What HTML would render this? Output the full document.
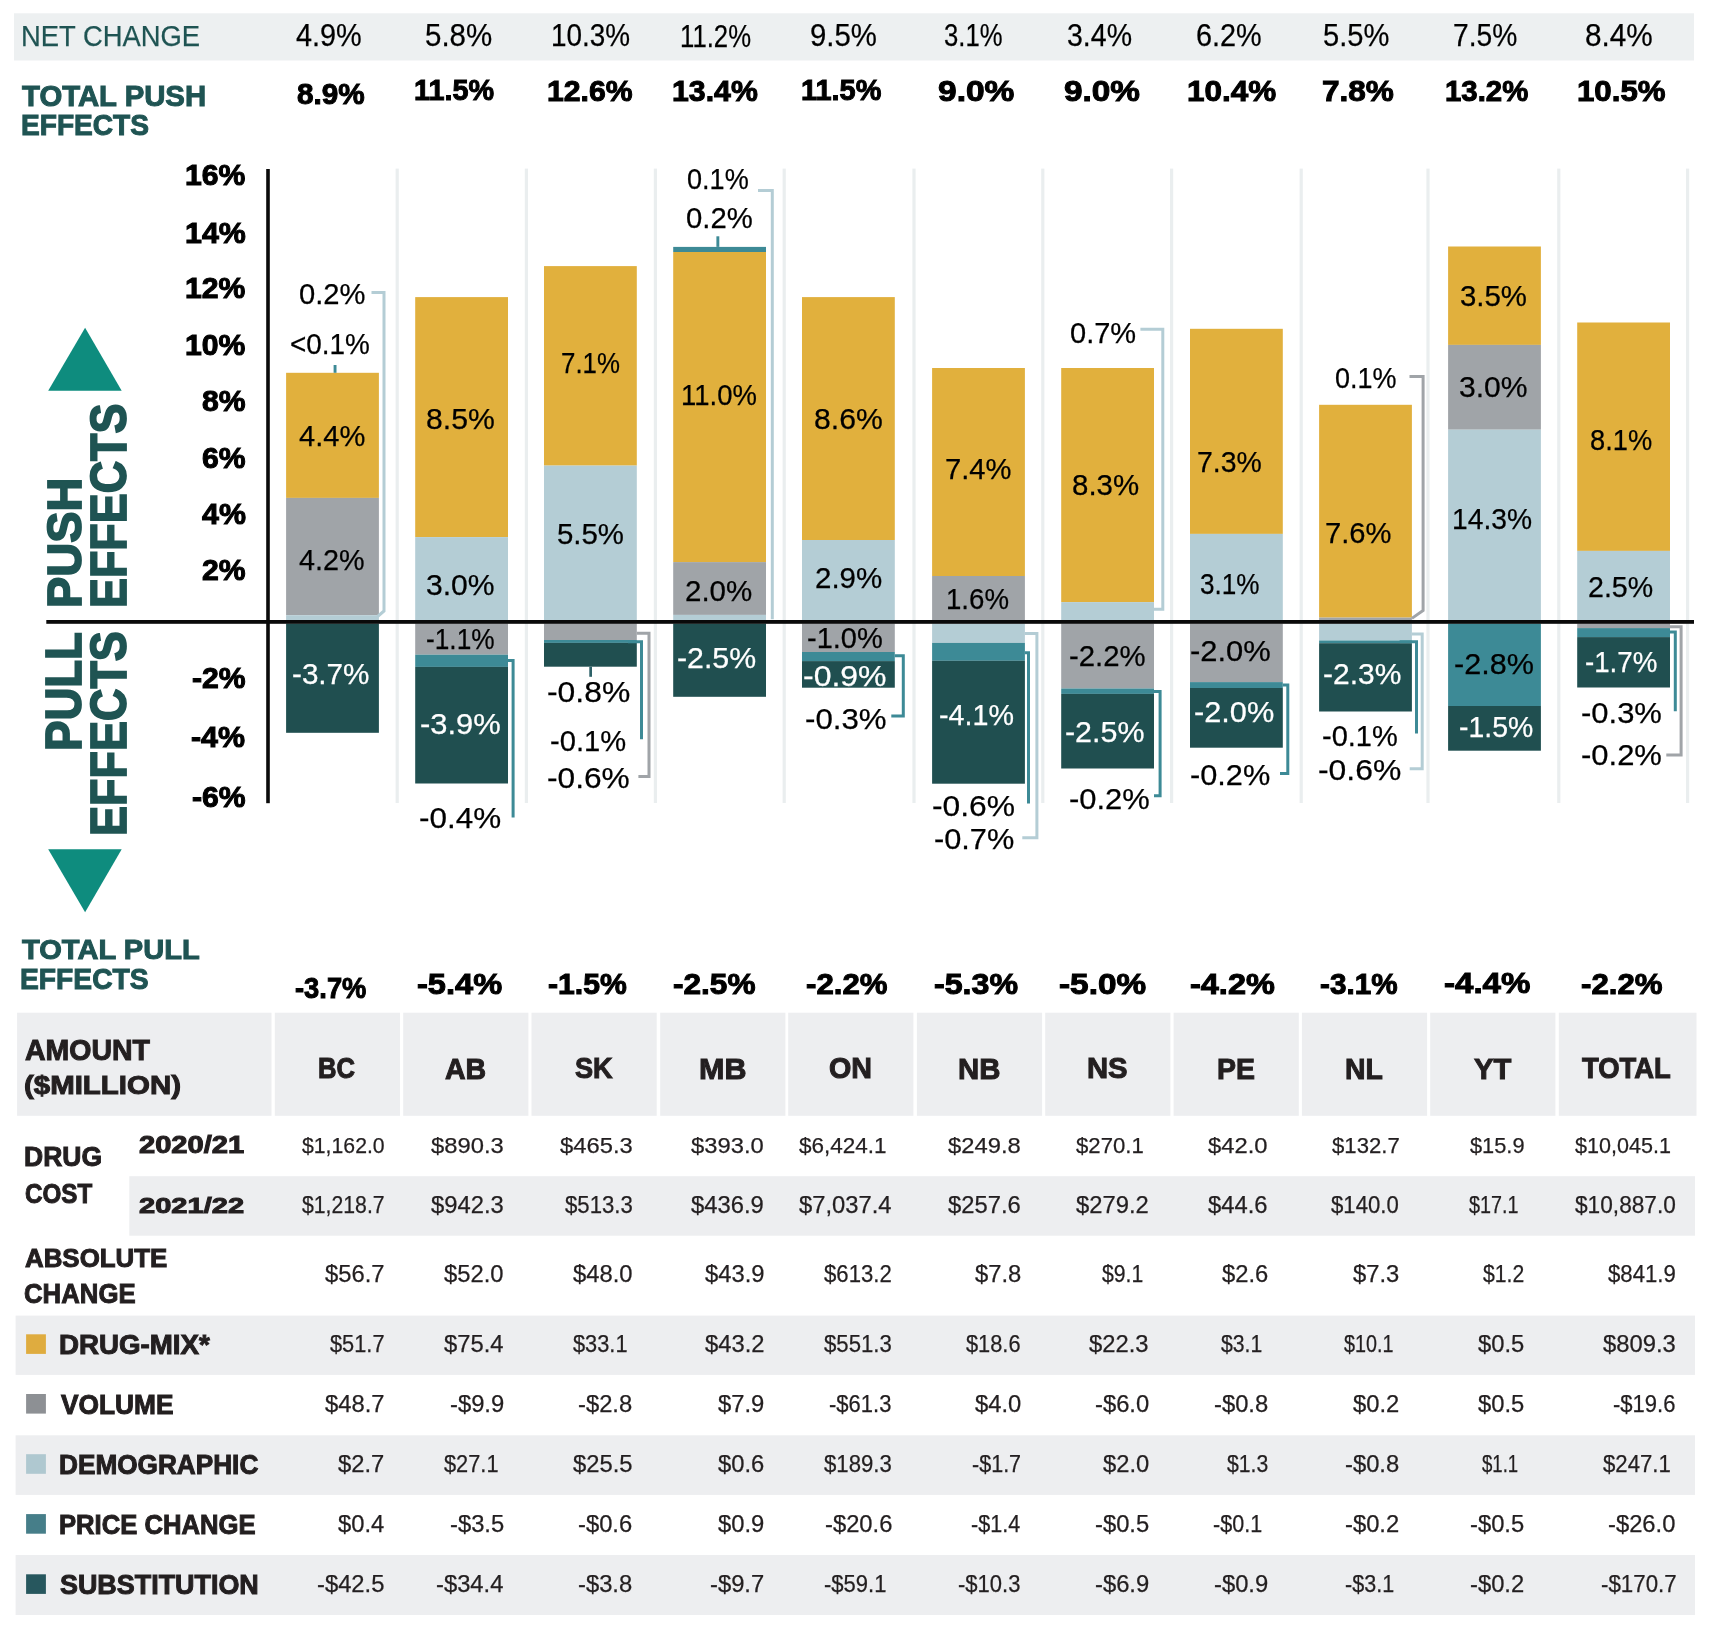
<!DOCTYPE html>
<html><head><meta charset="utf-8"><title>Drug cost drivers</title>
<style>
html,body{margin:0;padding:0;background:#fff;}
body{width:1718px;height:1625px;position:relative;overflow:hidden;font-family:"Liberation Sans",sans-serif;}
.r{position:absolute;}
.t{position:absolute;white-space:nowrap;transform-origin:0 0;-webkit-text-stroke:0.25px;}
.b{font-weight:700;-webkit-text-stroke:1px;}
.ov{position:absolute;left:0;top:0;}
#tx{position:absolute;left:0;top:0;width:1718px;height:1625px;will-change:transform;}
</style></head><body>
<svg class="ov" width="1718" height="1625" viewBox="0 0 1718 1625">
<rect x="14.00" y="13.30" width="1680.00" height="47.20" fill="#EDF0F1"/>
<rect x="395.60" y="168.60" width="3.20" height="634.40" fill="#EAEEEF"/>
<rect x="524.80" y="168.60" width="3.20" height="634.40" fill="#EAEEEF"/>
<rect x="653.80" y="168.60" width="3.20" height="634.40" fill="#EAEEEF"/>
<rect x="782.60" y="168.60" width="3.20" height="634.40" fill="#EAEEEF"/>
<rect x="912.40" y="168.60" width="3.20" height="634.40" fill="#EAEEEF"/>
<rect x="1041.20" y="168.60" width="3.20" height="634.40" fill="#EAEEEF"/>
<rect x="1170.00" y="168.60" width="3.20" height="634.40" fill="#EAEEEF"/>
<rect x="1299.60" y="168.60" width="3.20" height="634.40" fill="#EAEEEF"/>
<rect x="1426.40" y="168.60" width="3.20" height="634.40" fill="#EAEEEF"/>
<rect x="1557.20" y="168.60" width="3.20" height="634.40" fill="#EAEEEF"/>
<rect x="1686.00" y="168.60" width="3.20" height="634.40" fill="#EAEEEF"/>
<rect x="286.10" y="372.80" width="92.80" height="125.10" fill="#E1B03D"/>
<rect x="286.10" y="497.90" width="92.80" height="117.30" fill="#A0A4A8"/>
<rect x="286.10" y="615.20" width="92.80" height="5.30" fill="#B4CDD5"/>
<rect x="286.10" y="623.50" width="92.80" height="109.30" fill="#204F50"/>
<rect x="415.20" y="297.10" width="92.80" height="240.00" fill="#E1B03D"/>
<rect x="415.20" y="537.10" width="92.80" height="83.40" fill="#B4CDD5"/>
<rect x="415.20" y="623.50" width="92.80" height="31.20" fill="#A0A4A8"/>
<rect x="415.20" y="654.70" width="92.80" height="12.20" fill="#3D8A96"/>
<rect x="415.20" y="666.90" width="92.80" height="116.60" fill="#204F50"/>
<rect x="544.00" y="266.10" width="92.80" height="199.50" fill="#E1B03D"/>
<rect x="544.00" y="465.60" width="92.80" height="154.90" fill="#B4CDD5"/>
<rect x="544.00" y="623.50" width="92.80" height="16.50" fill="#A0A4A8"/>
<rect x="544.00" y="640.00" width="92.80" height="2.90" fill="#3D8A96"/>
<rect x="544.00" y="642.90" width="92.80" height="23.80" fill="#204F50"/>
<rect x="673.20" y="246.90" width="92.80" height="5.10" fill="#3D8A96"/>
<rect x="673.20" y="252.00" width="92.80" height="310.10" fill="#E1B03D"/>
<rect x="673.20" y="562.10" width="92.80" height="52.80" fill="#A0A4A8"/>
<rect x="673.20" y="614.90" width="92.80" height="5.60" fill="#B4CDD5"/>
<rect x="673.20" y="623.50" width="92.80" height="73.30" fill="#204F50"/>
<rect x="802.00" y="297.10" width="92.80" height="242.90" fill="#E1B03D"/>
<rect x="802.00" y="540.00" width="92.80" height="80.50" fill="#B4CDD5"/>
<rect x="802.00" y="623.50" width="92.80" height="28.50" fill="#A0A4A8"/>
<rect x="802.00" y="652.00" width="92.80" height="9.10" fill="#3D8A96"/>
<rect x="802.00" y="661.10" width="92.80" height="26.60" fill="#204F50"/>
<rect x="932.10" y="368.00" width="92.80" height="208.00" fill="#E1B03D"/>
<rect x="932.10" y="576.00" width="92.80" height="44.50" fill="#A0A4A8"/>
<rect x="932.10" y="623.50" width="92.80" height="19.40" fill="#B4CDD5"/>
<rect x="932.10" y="642.90" width="92.80" height="17.90" fill="#3D8A96"/>
<rect x="932.10" y="660.80" width="92.80" height="122.90" fill="#204F50"/>
<rect x="1061.20" y="368.00" width="92.80" height="234.10" fill="#E1B03D"/>
<rect x="1061.20" y="602.10" width="92.80" height="18.40" fill="#B4CDD5"/>
<rect x="1061.20" y="623.50" width="92.80" height="65.00" fill="#A0A4A8"/>
<rect x="1061.20" y="688.50" width="92.80" height="5.40" fill="#3D8A96"/>
<rect x="1061.20" y="693.90" width="92.80" height="74.60" fill="#204F50"/>
<rect x="1190.00" y="328.80" width="92.80" height="205.10" fill="#E1B03D"/>
<rect x="1190.00" y="533.90" width="92.80" height="86.60" fill="#B4CDD5"/>
<rect x="1190.00" y="623.50" width="92.80" height="58.60" fill="#A0A4A8"/>
<rect x="1190.00" y="682.10" width="92.80" height="5.90" fill="#3D8A96"/>
<rect x="1190.00" y="688.00" width="92.80" height="59.70" fill="#204F50"/>
<rect x="1319.10" y="404.80" width="92.80" height="212.80" fill="#E1B03D"/>
<rect x="1319.10" y="617.60" width="92.80" height="2.90" fill="#A0A4A8"/>
<rect x="1319.10" y="623.50" width="92.80" height="17.00" fill="#B4CDD5"/>
<rect x="1319.10" y="640.50" width="92.80" height="2.70" fill="#3D8A96"/>
<rect x="1319.10" y="643.20" width="92.80" height="68.30" fill="#204F50"/>
<rect x="1448.10" y="246.50" width="92.80" height="98.40" fill="#E1B03D"/>
<rect x="1448.10" y="344.90" width="92.80" height="84.80" fill="#A0A4A8"/>
<rect x="1448.10" y="429.70" width="92.80" height="190.80" fill="#B4CDD5"/>
<rect x="1448.10" y="623.50" width="92.80" height="82.50" fill="#3D8A96"/>
<rect x="1448.10" y="706.00" width="92.80" height="44.70" fill="#204F50"/>
<rect x="1577.20" y="322.50" width="92.80" height="228.40" fill="#E1B03D"/>
<rect x="1577.20" y="550.90" width="92.80" height="69.60" fill="#B4CDD5"/>
<rect x="1577.20" y="623.50" width="92.80" height="4.60" fill="#A0A4A8"/>
<rect x="1577.20" y="628.10" width="92.80" height="9.00" fill="#3D8A96"/>
<rect x="1577.20" y="637.10" width="92.80" height="50.40" fill="#204F50"/>
<rect x="333.60" y="365.00" width="2.90" height="7.80" fill="#3D8A96"/>
<rect x="716.40" y="236.30" width="2.90" height="10.60" fill="#3D8A96"/>
<rect x="589.30" y="666.70" width="2.70" height="10.10" fill="#2D6268"/>
<rect x="266.20" y="169.00" width="3.60" height="634.20" fill="#0A0A0A"/>
<rect x="46.30" y="620.00" width="1647.70" height="3.80" fill="#0A0A0A"/>
<rect x="17.10" y="1012.70" width="254.40" height="103.10" fill="#EDEEF0"/>
<rect x="274.80" y="1012.70" width="125.20" height="103.10" fill="#EDEEF0"/>
<rect x="403.20" y="1012.70" width="125.20" height="103.10" fill="#EDEEF0"/>
<rect x="531.50" y="1012.70" width="125.20" height="103.10" fill="#EDEEF0"/>
<rect x="660.20" y="1012.70" width="125.20" height="103.10" fill="#EDEEF0"/>
<rect x="788.20" y="1012.70" width="125.20" height="103.10" fill="#EDEEF0"/>
<rect x="916.90" y="1012.70" width="125.20" height="103.10" fill="#EDEEF0"/>
<rect x="1045.20" y="1012.70" width="125.20" height="103.10" fill="#EDEEF0"/>
<rect x="1173.60" y="1012.70" width="125.20" height="103.10" fill="#EDEEF0"/>
<rect x="1301.90" y="1012.70" width="125.20" height="103.10" fill="#EDEEF0"/>
<rect x="1430.20" y="1012.70" width="125.20" height="103.10" fill="#EDEEF0"/>
<rect x="1558.80" y="1012.70" width="137.70" height="103.10" fill="#EDEEF0"/>
<rect x="129.30" y="1176.20" width="1565.70" height="59.50" fill="#EDEEF0"/>
<rect x="15.60" y="1315.60" width="1679.40" height="59.30" fill="#EDEEF0"/>
<rect x="15.60" y="1435.30" width="1679.40" height="59.60" fill="#EDEEF0"/>
<rect x="15.60" y="1555.00" width="1679.40" height="60.00" fill="#EDEEF0"/>
<rect x="26.10" y="1334.30" width="19.80" height="19.60" fill="#DFAC3F"/>
<rect x="26.10" y="1394.00" width="19.80" height="19.60" fill="#8D9094"/>
<rect x="26.10" y="1454.20" width="19.80" height="19.60" fill="#AFC8D0"/>
<rect x="26.10" y="1514.10" width="19.80" height="19.60" fill="#467E89"/>
<rect x="26.10" y="1574.30" width="19.80" height="19.60" fill="#27575E"/>
<polyline points="371.5,292.6 384.0,292.6 384.0,611.0 377.6,616.5" fill="none" stroke="#B4CDD5" stroke-width="3.0" stroke-linejoin="miter"/>
<polyline points="508.0,660.5 513.1,660.5 513.1,817.6" fill="none" stroke="#3D8A96" stroke-width="3.0" stroke-linejoin="miter"/>
<polyline points="628.0,641.7 641.5,641.7 641.5,739.2" fill="none" stroke="#3D8A96" stroke-width="3.0" stroke-linejoin="miter"/>
<polyline points="636.8,633.2 649.0,633.2 649.0,776.4 638.4,776.4" fill="none" stroke="#A0A4A8" stroke-width="3.0" stroke-linejoin="miter"/>
<polyline points="758.0,190.5 772.3,190.5 772.3,619.2" fill="none" stroke="#B4CDD5" stroke-width="3.0" stroke-linejoin="miter"/>
<polyline points="894.8,655.7 903.3,655.7 903.3,715.9 891.3,715.9" fill="none" stroke="#3D8A96" stroke-width="3.0" stroke-linejoin="miter"/>
<polyline points="1024.9,633.6 1036.9,633.6 1036.9,837.8 1022.3,837.8" fill="none" stroke="#B4CDD5" stroke-width="3.0" stroke-linejoin="miter"/>
<polyline points="1024.9,652.8 1028.5,652.8 1028.5,803.6" fill="none" stroke="#3D8A96" stroke-width="3.0" stroke-linejoin="miter"/>
<polyline points="1140.4,329.2 1162.8,329.2 1162.8,609.2 1154.0,609.2" fill="none" stroke="#B4CDD5" stroke-width="3.0" stroke-linejoin="miter"/>
<polyline points="1154.0,691.4 1160.1,691.4 1160.1,795.8 1154.0,795.8" fill="none" stroke="#3D8A96" stroke-width="3.0" stroke-linejoin="miter"/>
<polyline points="1282.8,685.0 1287.8,685.0 1287.8,773.4 1280.0,773.4" fill="none" stroke="#3D8A96" stroke-width="3.0" stroke-linejoin="miter"/>
<polyline points="1409.5,376.6 1423.1,376.6 1423.1,610.4 1411.9,618.4" fill="none" stroke="#A0A4A8" stroke-width="3.0" stroke-linejoin="miter"/>
<polyline points="1399.6,641.8 1416.5,641.8 1416.5,733.6" fill="none" stroke="#3D8A96" stroke-width="3.0" stroke-linejoin="miter"/>
<polyline points="1411.9,634.0 1422.2,634.0 1422.2,768.7 1409.7,768.7" fill="none" stroke="#B4CDD5" stroke-width="3.0" stroke-linejoin="miter"/>
<polyline points="1669.6,626.7 1681.1,626.7 1681.1,755.0 1666.3,755.0" fill="none" stroke="#A0A4A8" stroke-width="3.0" stroke-linejoin="miter"/>
<polyline points="1669.6,631.9 1675.3,631.9 1675.3,711.2" fill="none" stroke="#3D8A96" stroke-width="3.0" stroke-linejoin="miter"/>
<polygon points="48.2,390.7 121.7,390.7 85.1,327.7" fill="#0E8C7E"/>
<polygon points="48.2,849.3 121.7,849.3 85.1,912.3" fill="#0E8C7E"/>
</svg>
<div id="tx">
<div class="t" style="left:21.11px;top:21.18px;font-size:30.14px;line-height:30.14px;color:#1F5453;transform:scaleX(0.9092)">NET CHANGE</div>
<div class="t" style="left:295.62px;top:20.58px;font-size:30.85px;line-height:30.85px;color:#000;transform:scaleX(0.9354)">4.9%</div>
<div class="t" style="left:424.82px;top:20.58px;font-size:30.85px;line-height:30.85px;color:#000;transform:scaleX(0.9557)">5.8%</div>
<div class="t" style="left:550.91px;top:20.58px;font-size:30.85px;line-height:30.85px;color:#000;transform:scaleX(0.9042)">10.3%</div>
<div class="t" style="left:680.07px;top:20.54px;font-size:31.06px;line-height:31.06px;color:#000;transform:scaleX(0.8285)">11.2%</div>
<div class="t" style="left:809.98px;top:20.58px;font-size:30.85px;line-height:30.85px;color:#000;transform:scaleX(0.9520)">9.5%</div>
<div class="t" style="left:944.07px;top:20.58px;font-size:30.85px;line-height:30.85px;color:#000;transform:scaleX(0.8322)">3.1%</div>
<div class="t" style="left:1066.86px;top:20.58px;font-size:30.85px;line-height:30.85px;color:#000;transform:scaleX(0.9248)">3.4%</div>
<div class="t" style="left:1195.56px;top:20.58px;font-size:30.85px;line-height:30.85px;color:#000;transform:scaleX(0.9349)">6.2%</div>
<div class="t" style="left:1323.04px;top:20.39px;font-size:31.06px;line-height:31.06px;color:#000;transform:scaleX(0.9373)">5.5%</div>
<div class="t" style="left:1453.29px;top:20.39px;font-size:31.06px;line-height:31.06px;color:#000;transform:scaleX(0.9078)">7.5%</div>
<div class="t" style="left:1584.56px;top:20.58px;font-size:30.85px;line-height:30.85px;color:#000;transform:scaleX(0.9638)">8.4%</div>
<div class="t b" style="left:22.31px;top:80.68px;font-size:29.44px;line-height:29.44px;color:#1F5453;transform:scaleX(0.9961)">TOTAL PUSH</div>
<div class="t b" style="left:20.77px;top:110.96px;font-size:28.87px;line-height:28.87px;color:#1F5453;transform:scaleX(0.9733)">EFFECTS</div>
<div class="t b" style="left:296.71px;top:79.46px;font-size:29.58px;line-height:29.58px;color:#000;transform:scaleX(1.0044)">8.9%</div>
<div class="t b" style="left:413.87px;top:75.36px;font-size:29.93px;line-height:29.93px;color:#000;transform:scaleX(0.9621)">11.5%</div>
<div class="t b" style="left:547.19px;top:75.54px;font-size:29.72px;line-height:29.72px;color:#000;transform:scaleX(1.0156)">12.6%</div>
<div class="t b" style="left:672.18px;top:75.54px;font-size:29.72px;line-height:29.72px;color:#000;transform:scaleX(1.0180)">13.4%</div>
<div class="t b" style="left:800.87px;top:75.36px;font-size:29.93px;line-height:29.93px;color:#000;transform:scaleX(0.9658)">11.5%</div>
<div class="t b" style="left:938.33px;top:75.54px;font-size:29.72px;line-height:29.72px;color:#000;transform:scaleX(1.1277)">9.0%</div>
<div class="t b" style="left:1064.43px;top:75.54px;font-size:29.72px;line-height:29.72px;color:#000;transform:scaleX(1.1216)">9.0%</div>
<div class="t b" style="left:1187.11px;top:75.54px;font-size:29.72px;line-height:29.72px;color:#000;transform:scaleX(1.0572)">10.4%</div>
<div class="t b" style="left:1322.34px;top:75.54px;font-size:29.72px;line-height:29.72px;color:#000;transform:scaleX(1.0619)">7.8%</div>
<div class="t b" style="left:1445.44px;top:75.54px;font-size:29.72px;line-height:29.72px;color:#000;transform:scaleX(0.9887)">13.2%</div>
<div class="t b" style="left:1576.53px;top:75.54px;font-size:29.72px;line-height:29.72px;color:#000;transform:scaleX(1.0511)">10.5%</div>
<div class="t b" style="left:185.21px;top:161.34px;font-size:29.01px;line-height:29.01px;color:#000;transform:scaleX(1.0400)">16%</div>
<div class="t b" style="left:184.78px;top:218.77px;font-size:29.22px;line-height:29.22px;color:#000;transform:scaleX(1.0400)">14%</div>
<div class="t b" style="left:185.21px;top:274.14px;font-size:29.01px;line-height:29.01px;color:#000;transform:scaleX(1.0400)">12%</div>
<div class="t b" style="left:185.21px;top:330.94px;font-size:29.01px;line-height:29.01px;color:#000;transform:scaleX(1.0400)">10%</div>
<div class="t b" style="left:201.95px;top:386.94px;font-size:29.01px;line-height:29.01px;color:#000;transform:scaleX(1.0400)">8%</div>
<div class="t b" style="left:201.95px;top:443.74px;font-size:29.01px;line-height:29.01px;color:#000;transform:scaleX(1.0400)">6%</div>
<div class="t b" style="left:201.65px;top:499.57px;font-size:29.22px;line-height:29.22px;color:#000;transform:scaleX(1.0400)">4%</div>
<div class="t b" style="left:201.95px;top:555.74px;font-size:29.01px;line-height:29.01px;color:#000;transform:scaleX(1.0400)">2%</div>
<div class="t b" style="left:191.84px;top:663.74px;font-size:29.01px;line-height:29.01px;color:#000;transform:scaleX(1.0400)">-2%</div>
<div class="t b" style="left:191.47px;top:722.77px;font-size:29.22px;line-height:29.22px;color:#000;transform:scaleX(1.0400)">-4%</div>
<div class="t b" style="left:191.84px;top:782.94px;font-size:29.01px;line-height:29.01px;color:#000;transform:scaleX(1.0400)">-6%</div>
<div class="t" style="left:299.33px;top:278.85px;font-size:29.40px;line-height:29.40px;color:#000;transform:scaleX(0.9919)">0.2%</div>
<div class="t" style="left:289.80px;top:328.85px;font-size:29.40px;line-height:29.40px;color:#000;transform:scaleX(0.9494)">&lt;0.1%</div>
<div class="t" style="left:299.42px;top:421.25px;font-size:29.40px;line-height:29.40px;color:#000;transform:scaleX(0.9906)">4.4%</div>
<div class="t" style="left:299.42px;top:545.12px;font-size:29.40px;line-height:29.40px;color:#000;transform:scaleX(0.9784)">4.2%</div>
<div class="t" style="left:292.27px;top:658.85px;font-size:29.40px;line-height:29.40px;color:#FFFFFF;transform:scaleX(1.0090)">-3.7%</div>
<div class="t" style="left:425.84px;top:404.45px;font-size:29.40px;line-height:29.40px;color:#000;transform:scaleX(1.0266)">8.5%</div>
<div class="t" style="left:426.00px;top:569.90px;font-size:29.40px;line-height:29.40px;color:#000;transform:scaleX(1.0243)">3.0%</div>
<div class="t" style="left:425.82px;top:624.45px;font-size:29.40px;line-height:29.40px;color:#000;transform:scaleX(0.8936)">-1.1%</div>
<div class="t" style="left:420.21px;top:708.85px;font-size:29.40px;line-height:29.40px;color:#FFFFFF;transform:scaleX(1.0519)">-3.9%</div>
<div class="t" style="left:419.39px;top:802.85px;font-size:29.40px;line-height:29.40px;color:#000;transform:scaleX(1.0694)">-0.4%</div>
<div class="t" style="left:561.11px;top:348.45px;font-size:29.40px;line-height:29.40px;color:#000;transform:scaleX(0.8802)">7.1%</div>
<div class="t" style="left:557.22px;top:519.18px;font-size:29.40px;line-height:29.40px;color:#000;transform:scaleX(0.9996)">5.5%</div>
<div class="t" style="left:546.57px;top:677.25px;font-size:29.40px;line-height:29.40px;color:#000;transform:scaleX(1.0841)">-0.8%</div>
<div class="t" style="left:550.39px;top:726.05px;font-size:29.40px;line-height:29.40px;color:#000;transform:scaleX(0.9916)">-0.1%</div>
<div class="t" style="left:547.07px;top:763.25px;font-size:29.40px;line-height:29.40px;color:#000;transform:scaleX(1.0774)">-0.6%</div>
<div class="t" style="left:686.82px;top:163.65px;font-size:29.40px;line-height:29.40px;color:#000;transform:scaleX(0.9209)">0.1%</div>
<div class="t" style="left:685.83px;top:202.85px;font-size:29.40px;line-height:29.40px;color:#000;transform:scaleX(0.9965)">0.2%</div>
<div class="t" style="left:680.74px;top:379.65px;font-size:29.40px;line-height:29.40px;color:#000;transform:scaleX(0.9344)">11.0%</div>
<div class="t" style="left:685.32px;top:575.65px;font-size:29.40px;line-height:29.40px;color:#000;transform:scaleX(1.0041)">2.0%</div>
<div class="t" style="left:677.44px;top:642.85px;font-size:29.40px;line-height:29.40px;color:#FFFFFF;transform:scaleX(1.0305)">-2.5%</div>
<div class="t" style="left:814.24px;top:404.45px;font-size:29.40px;line-height:29.40px;color:#000;transform:scaleX(1.0266)">8.6%</div>
<div class="t" style="left:814.92px;top:562.85px;font-size:29.40px;line-height:29.40px;color:#000;transform:scaleX(1.0041)">2.9%</div>
<div class="t" style="left:807.09px;top:623.25px;font-size:29.40px;line-height:29.40px;color:#000;transform:scaleX(0.9875)">-1.0%</div>
<div class="t" style="left:803.46px;top:660.75px;font-size:29.40px;line-height:29.40px;color:#FFFFFF;transform:scaleX(1.0882)">-0.9%</div>
<div class="t" style="left:804.59px;top:703.65px;font-size:29.40px;line-height:29.40px;color:#000;transform:scaleX(1.0627)">-0.3%</div>
<div class="t" style="left:945.34px;top:453.65px;font-size:29.40px;line-height:29.40px;color:#000;transform:scaleX(0.9917)">7.4%</div>
<div class="t" style="left:946.33px;top:584.20px;font-size:29.40px;line-height:29.40px;color:#000;transform:scaleX(0.9405)">1.6%</div>
<div class="t" style="left:939.11px;top:700.05px;font-size:29.40px;line-height:29.40px;color:#FFFFFF;transform:scaleX(0.9768)">-4.1%</div>
<div class="t" style="left:932.07px;top:790.70px;font-size:29.40px;line-height:29.40px;color:#000;transform:scaleX(1.0815)">-0.6%</div>
<div class="t" style="left:933.62px;top:823.50px;font-size:29.40px;line-height:29.40px;color:#000;transform:scaleX(1.0452)">-0.7%</div>
<div class="t" style="left:1070.44px;top:318.45px;font-size:29.40px;line-height:29.40px;color:#000;transform:scaleX(0.9872)">0.7%</div>
<div class="t" style="left:1071.87px;top:470.05px;font-size:29.40px;line-height:29.40px;color:#000;transform:scaleX(1.0019)">8.3%</div>
<div class="t" style="left:1068.68px;top:640.92px;font-size:29.40px;line-height:29.40px;color:#000;transform:scaleX(0.9983)">-2.2%</div>
<div class="t" style="left:1065.13px;top:716.85px;font-size:29.40px;line-height:29.40px;color:#FFFFFF;transform:scaleX(1.0345)">-2.5%</div>
<div class="t" style="left:1069.01px;top:783.55px;font-size:29.40px;line-height:29.40px;color:#000;transform:scaleX(1.0519)">-0.2%</div>
<div class="t" style="left:1197.38px;top:446.85px;font-size:29.40px;line-height:29.40px;color:#000;transform:scaleX(0.9669)">7.3%</div>
<div class="t" style="left:1200.16px;top:568.85px;font-size:29.40px;line-height:29.40px;color:#000;transform:scaleX(0.8885)">3.1%</div>
<div class="t" style="left:1190.21px;top:636.45px;font-size:29.40px;line-height:29.40px;color:#000;transform:scaleX(1.0519)">-2.0%</div>
<div class="t" style="left:1193.92px;top:697.40px;font-size:29.40px;line-height:29.40px;color:#FFFFFF;transform:scaleX(1.0452)">-2.0%</div>
<div class="t" style="left:1190.22px;top:760.45px;font-size:29.40px;line-height:29.40px;color:#000;transform:scaleX(1.0452)">-0.2%</div>
<div class="t" style="left:1335.32px;top:362.85px;font-size:29.40px;line-height:29.40px;color:#000;transform:scaleX(0.9178)">0.1%</div>
<div class="t" style="left:1325.34px;top:518.05px;font-size:29.40px;line-height:29.40px;color:#000;transform:scaleX(0.9917)">7.6%</div>
<div class="t" style="left:1323.05px;top:659.25px;font-size:29.40px;line-height:29.40px;color:#FFFFFF;transform:scaleX(1.0197)">-2.3%</div>
<div class="t" style="left:1321.99px;top:721.25px;font-size:29.40px;line-height:29.40px;color:#000;transform:scaleX(0.9875)">-0.1%</div>
<div class="t" style="left:1318.17px;top:754.70px;font-size:29.40px;line-height:29.40px;color:#000;transform:scaleX(1.0841)">-0.6%</div>
<div class="t" style="left:1460.02px;top:280.60px;font-size:29.40px;line-height:29.40px;color:#000;transform:scaleX(0.9996)">3.5%</div>
<div class="t" style="left:1459.20px;top:371.55px;font-size:29.40px;line-height:29.40px;color:#000;transform:scaleX(1.0243)">3.0%</div>
<div class="t" style="left:1452.48px;top:503.55px;font-size:29.40px;line-height:29.40px;color:#000;transform:scaleX(0.9599)">14.3%</div>
<div class="t" style="left:1454.42px;top:648.80px;font-size:29.40px;line-height:29.40px;color:#000;transform:scaleX(1.0412)">-2.8%</div>
<div class="t" style="left:1459.22px;top:712.23px;font-size:29.40px;line-height:29.40px;color:#FFFFFF;transform:scaleX(0.9661)">-1.5%</div>
<div class="t" style="left:1590.37px;top:424.85px;font-size:29.40px;line-height:29.40px;color:#000;transform:scaleX(0.9276)">8.1%</div>
<div class="t" style="left:1588.27px;top:572.20px;font-size:29.40px;line-height:29.40px;color:#000;transform:scaleX(0.9731)">2.5%</div>
<div class="t" style="left:1585.25px;top:646.95px;font-size:29.40px;line-height:29.40px;color:#FFFFFF;transform:scaleX(0.9419)">-1.7%</div>
<div class="t" style="left:1580.91px;top:698.15px;font-size:29.40px;line-height:29.40px;color:#000;transform:scaleX(1.0533)">-0.3%</div>
<div class="t" style="left:1580.91px;top:739.65px;font-size:29.40px;line-height:29.40px;color:#000;transform:scaleX(1.0533)">-0.2%</div>
<div class="t b" style="left:40.19px;top:608.45px;font-size:48.45px;line-height:48.45px;color:#1F5453;-webkit-text-stroke:1.8px;transform-origin:0 0;transform:rotate(-90deg) scaleX(0.9684)">PUSH</div>
<div class="t b" style="left:85.29px;top:608.32px;font-size:49.86px;line-height:49.86px;color:#1F5453;-webkit-text-stroke:1.8px;transform-origin:0 0;transform:rotate(-90deg) scaleX(0.9000)">EFFECTS</div>
<div class="t b" style="left:39.60px;top:750.76px;font-size:49.14px;line-height:49.14px;color:#1F5453;-webkit-text-stroke:1.8px;transform-origin:0 0;transform:rotate(-90deg) scaleX(0.9272)">PULL</div>
<div class="t b" style="left:85.29px;top:836.42px;font-size:49.86px;line-height:49.86px;color:#1F5453;-webkit-text-stroke:1.8px;transform-origin:0 0;transform:rotate(-90deg) scaleX(0.9018)">EFFECTS</div>
<div class="t b" style="left:21.91px;top:935.43px;font-size:28.45px;line-height:28.45px;color:#1F5453;transform:scaleX(1.0226)">TOTAL PULL</div>
<div class="t b" style="left:20.36px;top:965.26px;font-size:28.87px;line-height:28.87px;color:#1F5453;transform:scaleX(0.9780)">EFFECTS</div>
<div class="t b" style="left:294.91px;top:971.54px;font-size:30.42px;line-height:30.42px;color:#000;transform:scaleX(0.8985)">-3.7%</div>
<div class="t b" style="left:417.49px;top:969.24px;font-size:30.07px;line-height:30.07px;color:#000;transform:scaleX(1.0850)">-5.4%</div>
<div class="t b" style="left:548.29px;top:969.24px;font-size:30.07px;line-height:30.07px;color:#000;transform:scaleX(1.0042)">-1.5%</div>
<div class="t b" style="left:673.24px;top:969.42px;font-size:29.86px;line-height:29.86px;color:#000;transform:scaleX(1.0573)">-2.5%</div>
<div class="t b" style="left:805.75px;top:969.42px;font-size:29.86px;line-height:29.86px;color:#000;transform:scaleX(1.0441)">-2.2%</div>
<div class="t b" style="left:934.21px;top:969.42px;font-size:29.86px;line-height:29.86px;color:#000;transform:scaleX(1.0770)">-5.3%</div>
<div class="t b" style="left:1058.67px;top:969.42px;font-size:29.86px;line-height:29.86px;color:#000;transform:scaleX(1.1164)">-5.0%</div>
<div class="t b" style="left:1189.60px;top:968.64px;font-size:29.72px;line-height:29.72px;color:#000;transform:scaleX(1.0926)">-4.2%</div>
<div class="t b" style="left:1320.21px;top:968.64px;font-size:29.72px;line-height:29.72px;color:#000;transform:scaleX(0.9989)">-3.1%</div>
<div class="t b" style="left:1444.48px;top:968.46px;font-size:29.93px;line-height:29.93px;color:#000;transform:scaleX(1.1059)">-4.4%</div>
<div class="t b" style="left:1580.95px;top:968.64px;font-size:29.72px;line-height:29.72px;color:#000;transform:scaleX(1.0504)">-2.2%</div>
<div class="t b" style="left:25.09px;top:1035.59px;font-size:28.73px;line-height:28.73px;color:#231F20;transform:scaleX(0.9921)">AMOUNT</div>
<div class="t b" style="left:24.33px;top:1072.20px;font-size:26.21px;line-height:26.21px;color:#231F20;transform:scaleX(1.1231)">($MILLION)</div>
<div class="t b" style="left:318.33px;top:1054.11px;font-size:28.59px;line-height:28.59px;color:#231F20;transform:scaleX(0.8964)">BC</div>
<div class="t b" style="left:445.19px;top:1053.69px;font-size:29.42px;line-height:29.42px;color:#231F20;transform:scaleX(0.9701)">AB</div>
<div class="t b" style="left:574.89px;top:1054.11px;font-size:28.59px;line-height:28.59px;color:#231F20;transform:scaleX(0.9491)">SK</div>
<div class="t b" style="left:698.62px;top:1053.69px;font-size:29.42px;line-height:29.42px;color:#231F20;transform:scaleX(1.0373)">MB</div>
<div class="t b" style="left:829.25px;top:1054.11px;font-size:28.59px;line-height:28.59px;color:#231F20;transform:scaleX(1.0029)">ON</div>
<div class="t b" style="left:957.99px;top:1053.69px;font-size:29.42px;line-height:29.42px;color:#231F20;transform:scaleX(0.9993)">NB</div>
<div class="t b" style="left:1086.70px;top:1054.11px;font-size:28.59px;line-height:28.59px;color:#231F20;transform:scaleX(1.0234)">NS</div>
<div class="t b" style="left:1216.65px;top:1053.69px;font-size:29.42px;line-height:29.42px;color:#231F20;transform:scaleX(0.9672)">PE</div>
<div class="t b" style="left:1344.85px;top:1053.69px;font-size:29.42px;line-height:29.42px;color:#231F20;transform:scaleX(0.9660)">NL</div>
<div class="t b" style="left:1473.82px;top:1053.69px;font-size:29.42px;line-height:29.42px;color:#231F20;transform:scaleX(0.9938)">YT</div>
<div class="t b" style="left:1581.93px;top:1054.11px;font-size:28.59px;line-height:28.59px;color:#231F20;transform:scaleX(0.9585)">TOTAL</div>
<div class="t b" style="left:24.08px;top:1143.41px;font-size:27.89px;line-height:27.89px;color:#231F20;transform:scaleX(0.9503)">DRUG</div>
<div class="t b" style="left:24.83px;top:1181.13px;font-size:27.04px;line-height:27.04px;color:#231F20;transform:scaleX(0.8943)">COST</div>
<div class="t b" style="left:139.18px;top:1134.26px;font-size:23.36px;line-height:23.36px;color:#231F20;transform:scaleX(1.2453)">2020/21</div>
<div class="t b" style="left:139.18px;top:1194.24px;font-size:22.68px;line-height:22.68px;color:#231F20;transform:scaleX(1.2826)">2021/22</div>
<div class="t b" style="left:24.75px;top:1244.86px;font-size:26.20px;line-height:26.20px;color:#231F20;transform:scaleX(0.9880)">ABSOLUTE</div>
<div class="t b" style="left:24.37px;top:1279.57px;font-size:27.46px;line-height:27.46px;color:#231F20;transform:scaleX(0.9379)">CHANGE</div>
<div class="t b" style="left:59.20px;top:1331.73px;font-size:27.04px;line-height:27.04px;color:#231F20;transform:scaleX(1.0244)">DRUG-MIX*</div>
<div class="t b" style="left:60.87px;top:1391.83px;font-size:27.04px;line-height:27.04px;color:#231F20;transform:scaleX(0.9727)">VOLUME</div>
<div class="t b" style="left:59.30px;top:1452.03px;font-size:27.04px;line-height:27.04px;color:#231F20;transform:scaleX(0.9687)">DEMOGRAPHIC</div>
<div class="t b" style="left:59.33px;top:1511.93px;font-size:27.04px;line-height:27.04px;color:#231F20;transform:scaleX(0.9483)">PRICE CHANGE</div>
<div class="t b" style="left:60.19px;top:1571.53px;font-size:27.04px;line-height:27.04px;color:#231F20;transform:scaleX(0.9952)">SUBSTITUTION</div>
<div class="t" style="left:301.62px;top:1134.13px;font-size:22.96px;line-height:22.96px;color:#231F20;transform:scaleX(0.9252)">$1,162.0</div>
<div class="t" style="left:431.15px;top:1134.13px;font-size:22.96px;line-height:22.96px;color:#231F20;transform:scaleX(1.0363)">$890.3</div>
<div class="t" style="left:559.65px;top:1134.13px;font-size:22.96px;line-height:22.96px;color:#231F20;transform:scaleX(1.0363)">$465.3</div>
<div class="t" style="left:691.04px;top:1134.13px;font-size:22.96px;line-height:22.96px;color:#231F20;transform:scaleX(1.0363)">$393.0</div>
<div class="t" style="left:798.94px;top:1134.13px;font-size:22.96px;line-height:22.96px;color:#231F20;transform:scaleX(0.9806)">$6,424.1</div>
<div class="t" style="left:948.15px;top:1134.13px;font-size:22.96px;line-height:22.96px;color:#231F20;transform:scaleX(1.0363)">$249.8</div>
<div class="t" style="left:1075.69px;top:1134.13px;font-size:22.96px;line-height:22.96px;color:#231F20;transform:scaleX(0.9652)">$270.1</div>
<div class="t" style="left:1208.36px;top:1134.13px;font-size:22.96px;line-height:22.96px;color:#231F20;transform:scaleX(1.0363)">$42.0</div>
<div class="t" style="left:1331.81px;top:1134.13px;font-size:22.96px;line-height:22.96px;color:#231F20;transform:scaleX(0.9651)">$132.7</div>
<div class="t" style="left:1469.52px;top:1134.13px;font-size:22.96px;line-height:22.96px;color:#231F20;transform:scaleX(0.9490)">$15.9</div>
<div class="t" style="left:1574.53px;top:1134.13px;font-size:22.96px;line-height:22.96px;color:#231F20;transform:scaleX(0.9391)">$10,045.1</div>
<div class="t" style="left:301.97px;top:1193.75px;font-size:23.52px;line-height:23.52px;color:#231F20;transform:scaleX(0.9026)">$1,218.7</div>
<div class="t" style="left:431.15px;top:1193.75px;font-size:23.52px;line-height:23.52px;color:#231F20;transform:scaleX(1.0114)">$942.3</div>
<div class="t" style="left:564.57px;top:1193.75px;font-size:23.52px;line-height:23.52px;color:#231F20;transform:scaleX(0.9422)">$513.3</div>
<div class="t" style="left:691.27px;top:1193.75px;font-size:23.52px;line-height:23.52px;color:#231F20;transform:scaleX(1.0114)">$436.9</div>
<div class="t" style="left:799.17px;top:1193.75px;font-size:23.52px;line-height:23.52px;color:#231F20;transform:scaleX(1.0114)">$7,037.4</div>
<div class="t" style="left:948.15px;top:1193.75px;font-size:23.52px;line-height:23.52px;color:#231F20;transform:scaleX(1.0114)">$257.6</div>
<div class="t" style="left:1076.39px;top:1193.75px;font-size:23.52px;line-height:23.52px;color:#231F20;transform:scaleX(1.0114)">$279.2</div>
<div class="t" style="left:1208.48px;top:1193.75px;font-size:23.52px;line-height:23.52px;color:#231F20;transform:scaleX(1.0114)">$44.6</div>
<div class="t" style="left:1331.45px;top:1193.75px;font-size:23.52px;line-height:23.52px;color:#231F20;transform:scaleX(0.9423)">$140.0</div>
<div class="t" style="left:1468.94px;top:1193.75px;font-size:23.52px;line-height:23.52px;color:#231F20;transform:scaleX(0.8410)">$17.1</div>
<div class="t" style="left:1574.88px;top:1193.75px;font-size:23.52px;line-height:23.52px;color:#231F20;transform:scaleX(0.9641)">$10,887.0</div>
<div class="t" style="left:325.21px;top:1263.07px;font-size:23.38px;line-height:23.38px;color:#231F20;transform:scaleX(1.0175)">$56.7</div>
<div class="t" style="left:444.36px;top:1263.07px;font-size:23.38px;line-height:23.38px;color:#231F20;transform:scaleX(1.0175)">$52.0</div>
<div class="t" style="left:572.86px;top:1263.07px;font-size:23.38px;line-height:23.38px;color:#231F20;transform:scaleX(1.0175)">$48.0</div>
<div class="t" style="left:704.60px;top:1263.07px;font-size:23.38px;line-height:23.38px;color:#231F20;transform:scaleX(1.0175)">$43.9</div>
<div class="t" style="left:824.31px;top:1263.07px;font-size:23.38px;line-height:23.38px;color:#231F20;transform:scaleX(0.9477)">$613.2</div>
<div class="t" style="left:974.68px;top:1263.07px;font-size:23.38px;line-height:23.38px;color:#231F20;transform:scaleX(1.0175)">$7.8</div>
<div class="t" style="left:1102.22px;top:1263.07px;font-size:23.38px;line-height:23.38px;color:#231F20;transform:scaleX(0.9066)">$9.1</div>
<div class="t" style="left:1221.68px;top:1263.07px;font-size:23.38px;line-height:23.38px;color:#231F20;transform:scaleX(1.0175)">$2.6</div>
<div class="t" style="left:1353.18px;top:1263.07px;font-size:23.38px;line-height:23.38px;color:#231F20;transform:scaleX(1.0175)">$7.3</div>
<div class="t" style="left:1482.84px;top:1263.07px;font-size:23.38px;line-height:23.38px;color:#231F20;transform:scaleX(0.9063)">$1.2</div>
<div class="t" style="left:1608.19px;top:1263.07px;font-size:23.38px;line-height:23.38px;color:#231F20;transform:scaleX(0.9478)">$841.9</div>
<div class="t" style="left:330.13px;top:1332.95px;font-size:23.52px;line-height:23.52px;color:#231F20;transform:scaleX(0.9261)">$51.7</div>
<div class="t" style="left:444.24px;top:1332.95px;font-size:23.52px;line-height:23.52px;color:#231F20;transform:scaleX(1.0114)">$75.4</div>
<div class="t" style="left:572.52px;top:1332.95px;font-size:23.52px;line-height:23.52px;color:#231F20;transform:scaleX(0.9262)">$33.1</div>
<div class="t" style="left:704.71px;top:1332.95px;font-size:23.52px;line-height:23.52px;color:#231F20;transform:scaleX(1.0114)">$43.2</div>
<div class="t" style="left:824.07px;top:1332.95px;font-size:23.52px;line-height:23.52px;color:#231F20;transform:scaleX(0.9422)">$551.3</div>
<div class="t" style="left:966.40px;top:1332.95px;font-size:23.52px;line-height:23.52px;color:#231F20;transform:scaleX(0.9264)">$18.6</div>
<div class="t" style="left:1089.48px;top:1332.95px;font-size:23.52px;line-height:23.52px;color:#231F20;transform:scaleX(1.0114)">$22.3</div>
<div class="t" style="left:1221.22px;top:1332.95px;font-size:23.52px;line-height:23.52px;color:#231F20;transform:scaleX(0.9012)">$3.1</div>
<div class="t" style="left:1344.44px;top:1332.95px;font-size:23.52px;line-height:23.52px;color:#231F20;transform:scaleX(0.8410)">$10.1</div>
<div class="t" style="left:1477.68px;top:1332.95px;font-size:23.52px;line-height:23.52px;color:#231F20;transform:scaleX(1.0114)">$0.5</div>
<div class="t" style="left:1603.15px;top:1332.95px;font-size:23.52px;line-height:23.52px;color:#231F20;transform:scaleX(1.0114)">$809.3</div>
<div class="t" style="left:325.21px;top:1392.55px;font-size:23.52px;line-height:23.52px;color:#231F20;transform:scaleX(1.0114)">$48.7</div>
<div class="t" style="left:449.83px;top:1392.55px;font-size:23.52px;line-height:23.52px;color:#231F20;transform:scaleX(1.0114)">-$9.9</div>
<div class="t" style="left:578.21px;top:1392.55px;font-size:23.52px;line-height:23.52px;color:#231F20;transform:scaleX(1.0114)">-$2.8</div>
<div class="t" style="left:717.80px;top:1392.55px;font-size:23.52px;line-height:23.52px;color:#231F20;transform:scaleX(1.0114)">$7.9</div>
<div class="t" style="left:829.49px;top:1392.55px;font-size:23.52px;line-height:23.52px;color:#231F20;transform:scaleX(0.9357)">-$61.3</div>
<div class="t" style="left:974.56px;top:1392.55px;font-size:23.52px;line-height:23.52px;color:#231F20;transform:scaleX(1.0114)">$4.0</div>
<div class="t" style="left:1094.59px;top:1392.55px;font-size:23.52px;line-height:23.52px;color:#231F20;transform:scaleX(1.0114)">-$6.0</div>
<div class="t" style="left:1213.71px;top:1392.55px;font-size:23.52px;line-height:23.52px;color:#231F20;transform:scaleX(1.0114)">-$0.8</div>
<div class="t" style="left:1353.42px;top:1392.55px;font-size:23.52px;line-height:23.52px;color:#231F20;transform:scaleX(1.0114)">$0.2</div>
<div class="t" style="left:1477.68px;top:1392.55px;font-size:23.52px;line-height:23.52px;color:#231F20;transform:scaleX(1.0114)">$0.5</div>
<div class="t" style="left:1613.49px;top:1392.55px;font-size:23.52px;line-height:23.52px;color:#231F20;transform:scaleX(0.9357)">-$19.6</div>
<div class="t" style="left:338.42px;top:1452.85px;font-size:23.52px;line-height:23.52px;color:#231F20;transform:scaleX(1.0114)">$2.7</div>
<div class="t" style="left:444.02px;top:1452.85px;font-size:23.52px;line-height:23.52px;color:#231F20;transform:scaleX(0.9262)">$27.1</div>
<div class="t" style="left:572.98px;top:1452.85px;font-size:23.52px;line-height:23.52px;color:#231F20;transform:scaleX(1.0114)">$25.5</div>
<div class="t" style="left:717.68px;top:1452.85px;font-size:23.52px;line-height:23.52px;color:#231F20;transform:scaleX(1.0114)">$0.6</div>
<div class="t" style="left:824.07px;top:1452.85px;font-size:23.52px;line-height:23.52px;color:#231F20;transform:scaleX(0.9422)">$189.3</div>
<div class="t" style="left:971.95px;top:1452.85px;font-size:23.52px;line-height:23.52px;color:#231F20;transform:scaleX(0.9161)">-$1.7</div>
<div class="t" style="left:1102.56px;top:1452.85px;font-size:23.52px;line-height:23.52px;color:#231F20;transform:scaleX(1.0114)">$2.0</div>
<div class="t" style="left:1226.61px;top:1452.85px;font-size:23.52px;line-height:23.52px;color:#231F20;transform:scaleX(0.9015)">$1.3</div>
<div class="t" style="left:1345.21px;top:1452.85px;font-size:23.52px;line-height:23.52px;color:#231F20;transform:scaleX(1.0114)">-$0.8</div>
<div class="t" style="left:1482.15px;top:1452.85px;font-size:23.52px;line-height:23.52px;color:#231F20;transform:scaleX(0.7910)">$1.1</div>
<div class="t" style="left:1602.69px;top:1452.85px;font-size:23.52px;line-height:23.52px;color:#231F20;transform:scaleX(0.9421)">$247.1</div>
<div class="t" style="left:337.94px;top:1512.85px;font-size:23.52px;line-height:23.52px;color:#231F20;transform:scaleX(1.0114)">$0.4</div>
<div class="t" style="left:449.71px;top:1512.85px;font-size:23.52px;line-height:23.52px;color:#231F20;transform:scaleX(1.0114)">-$3.5</div>
<div class="t" style="left:578.21px;top:1512.85px;font-size:23.52px;line-height:23.52px;color:#231F20;transform:scaleX(1.0114)">-$0.6</div>
<div class="t" style="left:717.80px;top:1512.85px;font-size:23.52px;line-height:23.52px;color:#231F20;transform:scaleX(1.0114)">$0.9</div>
<div class="t" style="left:824.51px;top:1512.85px;font-size:23.52px;line-height:23.52px;color:#231F20;transform:scaleX(1.0114)">-$20.6</div>
<div class="t" style="left:971.47px;top:1512.85px;font-size:23.52px;line-height:23.52px;color:#231F20;transform:scaleX(0.9170)">-$1.4</div>
<div class="t" style="left:1094.71px;top:1512.85px;font-size:23.52px;line-height:23.52px;color:#231F20;transform:scaleX(1.0114)">-$0.5</div>
<div class="t" style="left:1213.33px;top:1512.85px;font-size:23.52px;line-height:23.52px;color:#231F20;transform:scaleX(0.9163)">-$0.1</div>
<div class="t" style="left:1345.45px;top:1512.85px;font-size:23.52px;line-height:23.52px;color:#231F20;transform:scaleX(1.0114)">-$0.2</div>
<div class="t" style="left:1469.71px;top:1512.85px;font-size:23.52px;line-height:23.52px;color:#231F20;transform:scaleX(1.0114)">-$0.5</div>
<div class="t" style="left:1608.39px;top:1512.85px;font-size:23.52px;line-height:23.52px;color:#231F20;transform:scaleX(1.0114)">-$26.0</div>
<div class="t" style="left:317.01px;top:1572.85px;font-size:23.52px;line-height:23.52px;color:#231F20;transform:scaleX(1.0114)">-$42.5</div>
<div class="t" style="left:436.27px;top:1572.85px;font-size:23.52px;line-height:23.52px;color:#231F20;transform:scaleX(1.0114)">-$34.4</div>
<div class="t" style="left:578.21px;top:1572.85px;font-size:23.52px;line-height:23.52px;color:#231F20;transform:scaleX(1.0114)">-$3.8</div>
<div class="t" style="left:709.95px;top:1572.85px;font-size:23.52px;line-height:23.52px;color:#231F20;transform:scaleX(1.0114)">-$9.7</div>
<div class="t" style="left:824.11px;top:1572.85px;font-size:23.52px;line-height:23.52px;color:#231F20;transform:scaleX(0.9355)">-$59.1</div>
<div class="t" style="left:958.49px;top:1572.85px;font-size:23.52px;line-height:23.52px;color:#231F20;transform:scaleX(0.9357)">-$10.3</div>
<div class="t" style="left:1094.83px;top:1572.85px;font-size:23.52px;line-height:23.52px;color:#231F20;transform:scaleX(1.0114)">-$6.9</div>
<div class="t" style="left:1213.83px;top:1572.85px;font-size:23.52px;line-height:23.52px;color:#231F20;transform:scaleX(1.0114)">-$0.9</div>
<div class="t" style="left:1344.83px;top:1572.85px;font-size:23.52px;line-height:23.52px;color:#231F20;transform:scaleX(0.9163)">-$3.1</div>
<div class="t" style="left:1469.95px;top:1572.85px;font-size:23.52px;line-height:23.52px;color:#231F20;transform:scaleX(1.0114)">-$0.2</div>
<div class="t" style="left:1600.51px;top:1572.85px;font-size:23.52px;line-height:23.52px;color:#231F20;transform:scaleX(0.9482)">-$170.7</div>
</div>
</body></html>
